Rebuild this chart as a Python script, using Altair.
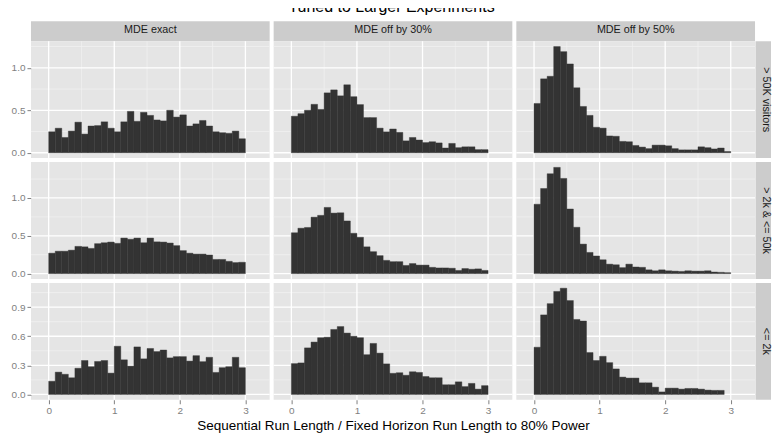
import altair as alt
import pandas as pd

FONT = "Liberation Sans"
COLS = ["MDE exact", "MDE off by 30%", "MDE off by 50%"]
ROWS = ["> 50K visitors", "> 2k & <= 50k", "<= 2k"]
BIN = 0.1
X_TICKS = [0, 1, 2, 3]
X_MINOR = [0.5, 1.5, 2.5]
XDOM = [-0.27, 3.37]
Y_TICKS = [[0, 0.5, 1.0], [0, 0.5, 1.0], [0, 0.3, 0.6, 0.9]]
Y_MINOR = [[0.25, 0.75, 1.25], [0.25, 0.75, 1.25], [0.15, 0.45, 0.75, 1.05]]

# density per bin of width 0.1 starting at 0
r1c1 = [0.247, 0.289, 0.18, 0.255, 0.36, 0.22, 0.315, 0.32, 0.364, 0.289,
        0.247, 0.364, 0.487, 0.37, 0.476, 0.44, 0.386, 0.375, 0.50, 0.42,
        0.446, 0.315, 0.34, 0.38, 0.315, 0.247, 0.236, 0.229, 0.255, 0.165]
r1c2 = [0.43, 0.46, 0.50, 0.57, 0.51, 0.705, 0.74, 0.67, 0.80, 0.66,
        0.567, 0.414, 0.414, 0.29, 0.246, 0.28, 0.24, 0.14, 0.18, 0.15,
        0.12, 0.13, 0.116, 0.056, 0.11, 0.06, 0.07, 0.07, 0.037, 0.037]
r1c3 = [0.58, 0.87, 0.90, 1.25, 1.19, 1.045, 0.765, 0.545, 0.44, 0.30,
        0.29, 0.198, 0.194, 0.134, 0.13, 0.086, 0.067, 0.049, 0.09, 0.09,
        0.082, 0.049, 0.034, 0.034, 0.034, 0.07, 0.06, 0.045, 0.056, 0.015]
r2c1 = [0.27, 0.296, 0.296, 0.31, 0.36, 0.354, 0.333, 0.396, 0.408, 0.417,
        0.40, 0.47, 0.454, 0.47, 0.408, 0.47, 0.42, 0.417, 0.404, 0.37,
        0.304, 0.27, 0.258, 0.258, 0.246, 0.1875, 0.1875, 0.1625, 0.146, 0.15]
r2c2 = [0.54, 0.60, 0.61, 0.746, 0.77, 0.875, 0.80, 0.804, 0.696, 0.533,
        0.48, 0.354, 0.29, 0.2375, 0.175, 0.158, 0.158, 0.108, 0.133, 0.1125,
        0.1125, 0.083, 0.075, 0.075, 0.071, 0.042, 0.067, 0.058, 0.0625, 0.042]
r2c3 = [0.917, 1.125, 1.32, 1.404, 1.258, 0.854, 0.6125, 0.39, 0.28, 0.233,
        0.183, 0.125, 0.117, 0.079, 0.125, 0.0875, 0.083, 0.05, 0.0375, 0.05,
        0.0375, 0.033, 0.029, 0.0375, 0.033, 0.033, 0.0375, 0.021, 0.017, 0.0125]
r3c1 = [0.136, 0.23, 0.208, 0.172, 0.27, 0.35, 0.286, 0.34, 0.35, 0.22,
        0.497, 0.357, 0.292, 0.49, 0.367, 0.474, 0.442, 0.458, 0.377, 0.39,
        0.39, 0.344, 0.40, 0.338, 0.383, 0.227, 0.276, 0.286, 0.383, 0.276]
r3c2 = [0.318, 0.325, 0.48, 0.54, 0.585, 0.59, 0.67, 0.70, 0.633, 0.60,
        0.585, 0.41, 0.526, 0.426, 0.315, 0.218, 0.224, 0.198, 0.234, 0.227,
        0.185, 0.172, 0.172, 0.10, 0.10, 0.13, 0.081, 0.114, 0.055, 0.091]
r3c3 = [0.487, 0.82, 0.936, 1.062, 1.095, 0.968, 0.773, 0.757, 0.432, 0.35,
        0.393, 0.328, 0.263, 0.179, 0.169, 0.169, 0.12, 0.12, 0.075, 0.026,
        0.065, 0.065, 0.055, 0.062, 0.062, 0.055, 0.045, 0.042, 0.042]

DATA = [[r1c1, r1c2, r1c3], [r2c1, r2c2, r2c3], [r3c1, r3c2, r3c3]]

W, H = 239, 117
SH = 16   # strip height
RS = 12   # row strip width
GAP = 4
BG = "#E5E5E5"
STRIP = "#CCCCCC"
MINOR = "#F0F0F0"
BAR = "#333333"
AXC = "#7F7F7F"
XTITLE = "Sequential Run Length / Fixed Horizon Run Length to 80% Power"


def panel(r, c):
    vals = DATA[r][c]
    df = pd.DataFrame({"x0": [round(i * BIN, 2) for i in range(len(vals))], "v": vals})
    df["x1"] = df["x0"] + BIN
    df["base"] = 0.0
    ymax = max(max(v) for v in DATA[r])
    ydom = [-0.05 * ymax, 1.05 * ymax]
    xs = alt.Scale(domain=XDOM, nice=False, zero=False)
    ys = alt.Scale(domain=ydom, nice=False, zero=False)
    if c == 0:
        yax = alt.Axis(values=Y_TICKS[r], format=".1f", grid=False, domain=False,
                       tickColor=AXC, tickSize=4, tickWidth=1, labelColor=AXC,
                       labelFont=FONT, labelFontSize=10, labelPadding=2, title=None)
    else:
        yax = None
    if r == 2:
        xax = alt.Axis(values=X_TICKS, format="d", grid=False, domain=False,
                       tickColor=AXC, tickSize=4, tickWidth=1, labelColor=AXC,
                       labelFont=FONT, labelFontSize=10, labelPadding=2,
                       title=XTITLE if c == 1 else None, titleFont=FONT,
                       titleFontSize=13.5, titleFontWeight="normal",
                       titleColor="#000000", titlePadding=3)
    else:
        xax = None
    mx = alt.Chart(pd.DataFrame({"x": X_MINOR})).mark_rule(color=MINOR, strokeWidth=0.8).encode(
        x=alt.X("x:Q", scale=xs, axis=xax))
    my = alt.Chart(pd.DataFrame({"y": Y_MINOR[r]})).mark_rule(color=MINOR, strokeWidth=0.8).encode(
        y=alt.Y("y:Q", scale=ys, axis=yax))
    gx = alt.Chart(pd.DataFrame({"x": X_TICKS})).mark_rule(color="white", strokeWidth=1.3).encode(
        x=alt.X("x:Q", scale=xs, axis=xax))
    gy = alt.Chart(pd.DataFrame({"y": Y_TICKS[r]})).mark_rule(color="white", strokeWidth=1.3).encode(
        y=alt.Y("y:Q", scale=ys, axis=yax))
    bars = alt.Chart(df).mark_rect(color=BAR, stroke=BAR, strokeWidth=0.4).encode(
        x=alt.X("x0:Q", scale=xs, axis=xax),
        x2="x1:Q",
        y=alt.Y("v:Q", scale=ys, axis=yax),
        y2="base:Q",
    )
    return alt.layer(mx, my, gx, gy, bars).properties(
        width=W, height=H, view=alt.ViewBackground(fill=BG, stroke=None))


def col_strip(label):
    d = pd.DataFrame({"t": [label]})
    bg = alt.Chart(d).mark_rect(color=STRIP).encode(
        x=alt.value(0), x2=alt.value(W), y=alt.value(0), y2=alt.value(SH + GAP))
    tx = alt.Chart(d).mark_text(
        font=FONT, fontSize=10.8, color="#1A1A1A", align="center", baseline="middle"
    ).encode(text="t:N", x=alt.value(W / 2), y=alt.value(SH / 2 + 1))
    return alt.layer(bg, tx).properties(width=W, height=SH)


def row_strip(label):
    d = pd.DataFrame({"t": [label]})
    bg = alt.Chart(d).mark_rect(color=STRIP).encode(
        x=alt.value(-GAP + 0.5), x2=alt.value(RS), y=alt.value(0), y2=alt.value(H))
    tx = alt.Chart(d).mark_text(
        font=FONT, fontSize=10.8, color="#1A1A1A", align="center", baseline="middle", angle=90
    ).encode(text="t:N", x=alt.value(RS / 2 + 1), y=alt.value(H / 2))
    return alt.layer(bg, tx).properties(width=RS, height=H)


def corner():
    d = pd.DataFrame({"t": [""]})
    return alt.Chart(d).mark_text(opacity=0).encode(
        text="t:N", x=alt.value(0), y=alt.value(0)).properties(width=RS, height=SH)


cells = [col_strip(c) for c in COLS] + [corner()]
for r in range(3):
    cells += [panel(r, c) for c in range(3)] + [row_strip(ROWS[r])]

chart = alt.concat(*cells, columns=4, spacing=GAP, bounds="flush").properties(
    title=alt.TitleParams("Tuned to Larger Experiments", font=FONT, fontSize=16,
                          fontWeight="normal", color="#000000", anchor="middle", offset=0),
    padding={"top": -9, "left": 3, "right": 0, "bottom": 0},
).configure_view(stroke=None)

chart.save("out.html", embed_options={"renderer": "svg", "actions": False})
